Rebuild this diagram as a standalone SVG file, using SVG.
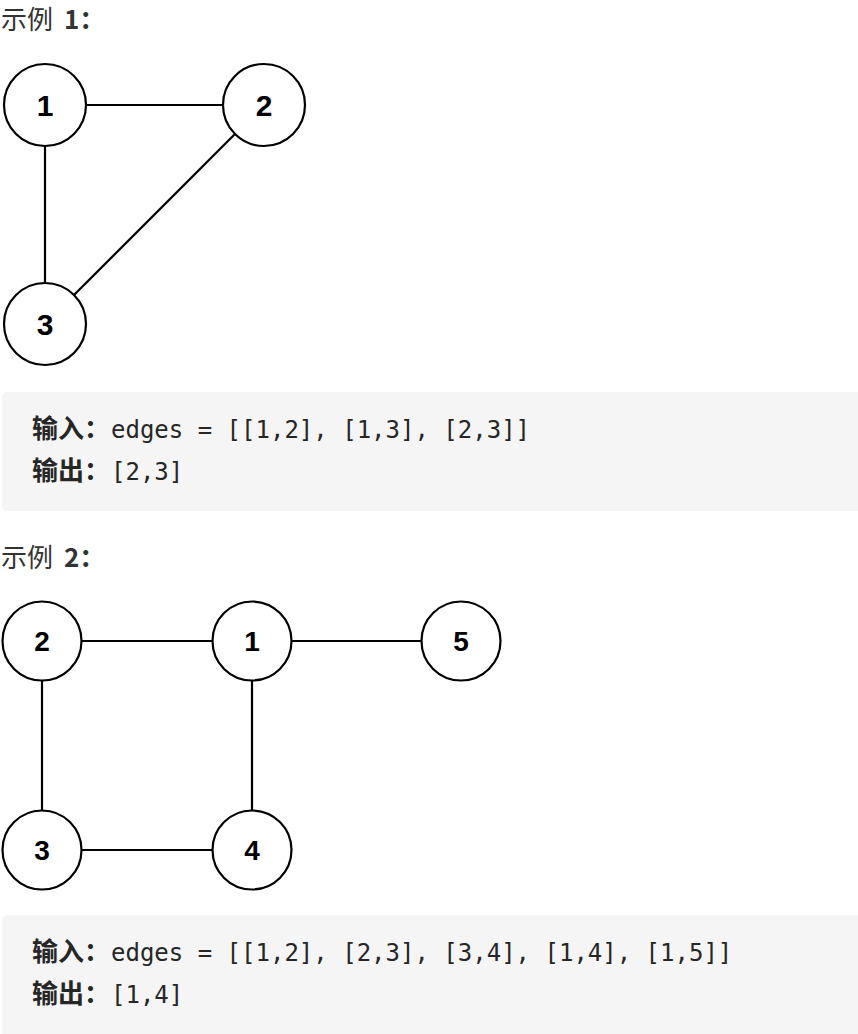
<svg xmlns="http://www.w3.org/2000/svg" width="858" height="1034" viewBox="0 0 858 1034">
<style>
.bg{fill:#ffffff}
.box{fill:#f5f5f5}
.head{font-family:"Noto Sans CJK SC","Noto Sans",sans-serif;font-size:26px;fill:#333333}
.b{font-weight:bold}
.code{font-size:24px;fill:#262626}
.cn{font-family:"Noto Sans CJK SC",sans-serif;font-weight:bold;font-size:26px}
.mono{font-family:"DejaVu Sans Mono","Liberation Mono",monospace}
.node circle{fill:#ffffff;stroke:#000000;stroke-width:2.2}
.node text{font-family:"Liberation Sans",Arial,sans-serif;font-weight:bold;fill:#000000;text-anchor:middle}
.g1 text{font-size:30px}
.g2 text{font-size:28px}
#edges line{stroke:#000000;stroke-width:2.2}
</style>
<rect class="bg" x="0" y="0" width="858" height="1034"/>

<text class="head" x="1" y="29">示例<tspan class="b" x="64">1：</tspan></text>
<text class="head" x="1" y="567">示例<tspan class="b" x="64">2：</tspan></text>

<rect class="box" x="2" y="392" width="880" height="119" rx="5"/>
<text class="code" y="438"><tspan class="cn" x="32">输入：</tspan><tspan class="mono" x="111">edges = [[1,2], [1,3], [2,3]]</tspan></text>
<text class="code" y="480"><tspan class="cn" x="32">输出：</tspan><tspan class="mono" x="111">[2,3]</tspan></text>

<rect class="box" x="2" y="915" width="880" height="130" rx="5"/>
<text class="code" y="961"><tspan class="cn" x="32">输入：</tspan><tspan class="mono" x="111">edges = [[1,2], [2,3], [3,4], [1,4], [1,5]]</tspan></text>
<text class="code" y="1003"><tspan class="cn" x="32">输出：</tspan><tspan class="mono" x="111">[1,4]</tspan></text>

<g id="edges">
<line x1="86" y1="105" x2="223" y2="105"/>
<line x1="45" y1="146" x2="45" y2="283"/>
<line x1="235" y1="134" x2="74" y2="295"/>
<line x1="81.5" y1="641" x2="212.5" y2="641"/>
<line x1="291.5" y1="641" x2="421.5" y2="641"/>
<line x1="42" y1="680.5" x2="42" y2="810.5"/>
<line x1="252" y1="680.5" x2="252" y2="810.5"/>
<line x1="81.5" y1="850" x2="212.5" y2="850"/>
</g>

<g class="g1">
<g id="ex1-node1" class="node"><circle cx="45" cy="105" r="41"/><text x="45" y="116">1</text></g>
<g id="ex1-node2" class="node"><circle cx="264" cy="105" r="41"/><text x="264" y="116">2</text></g>
<g id="ex1-node3" class="node"><circle cx="45" cy="324" r="41"/><text x="45" y="335">3</text></g>
</g>
<g class="g2">
<g id="ex2-node2" class="node"><circle cx="42" cy="641" r="39.5"/><text x="42" y="651">2</text></g>
<g id="ex2-node1" class="node"><circle cx="252" cy="641" r="39.5"/><text x="252" y="651">1</text></g>
<g id="ex2-node5" class="node"><circle cx="461" cy="641" r="39.5"/><text x="461" y="651">5</text></g>
<g id="ex2-node3" class="node"><circle cx="42" cy="850" r="39.5"/><text x="42" y="860">3</text></g>
<g id="ex2-node4" class="node"><circle cx="252" cy="850" r="39.5"/><text x="252" y="860">4</text></g>
</g>
</svg>
